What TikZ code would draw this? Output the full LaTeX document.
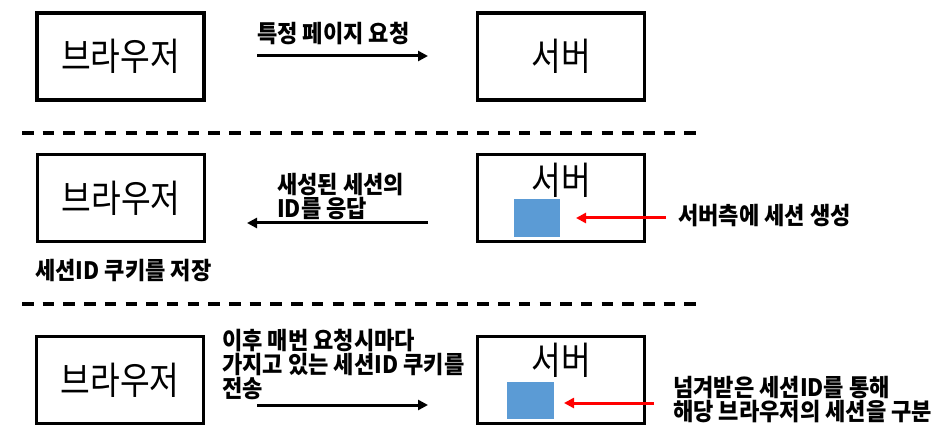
\documentclass[tikz,border=0pt]{standalone}
\usepackage{fontspec}
\usetikzlibrary{arrows.meta}
\newfontfamily\krfont[FakeStretch=0.85]{Noto Sans CJK KR}
\newfontfamily\krlbl[FakeStretch=0.92]{Noto Sans CJK KR}
\definecolor{boxblue}{HTML}{5B9BD5}
\tikzset{
  bigtext/.style={font=\krfont\fontsize{38}{40}\selectfont},
  mainbox/.style={draw=black, line width=3.2pt, inner sep=0pt, minimum width=167pt, minimum height=87pt, bigtext},
  sesbox/.style={fill=boxblue, draw=none, inner sep=0pt, minimum width=46pt, minimum height=38pt},
  lbl/.style={inner sep=0pt, anchor=west, align=left, font=\krlbl\bfseries\fontsize{24}{24}\selectfont},
  blackarrow/.style={line width=3pt, -{Triangle[length=10pt,width=10pt]}},
  redarrow/.style={draw=red, line width=3pt, -{Triangle[length=10pt,width=10pt]}},
  sep/.style={line width=3.2pt, dash pattern=on 11.5pt off 9.2pt},
}
\begin{document}
\begin{tikzpicture}[x=1pt,y=-1pt]
\useasboundingbox (0,0) rectangle (944,438);
% Row 1
\node[mainbox] (b1) at (120.5,56.5) {브라우저};
\node[mainbox] (s1) at (561,56.5) {서버};
\coordinate (a1s) at (257,56);
\coordinate (a1e) at (428,56);
\draw[blackarrow] (a1s) -- (a1e);
\node[lbl] (l1) at (257,33.5) {특정 페이지 요청};
% separator 1
\coordinate (d1s) at (22,133);
\coordinate (d1e) at (702,133);
\draw[sep] (d1s) -- (d1e);
% Row 2
\node[mainbox] (b2) at (121,198) {브라우저};
\node[mainbox] (s2) at (561,198) {};
\node[inner sep=0pt, bigtext] (s2t) at (561,180) {서버};
\node[sesbox] (r2) at (537,218) {};
\coordinate (a2s) at (428,223);
\coordinate (a2e) at (247,223);
\draw[blackarrow] (a2s) -- (a2e);
\node[lbl] (l2) at (277,196.5) {새성된 세션의\\ID를 응답};
\node[lbl] (l3) at (35,271) {세션ID 쿠키를 저장};
\coordinate (r2s) at (666,218);
\coordinate (r2e) at (576,218);
\draw[redarrow] (r2s) -- (r2e);
\node[lbl] (l4) at (678,215.5) {서버측에 세션 생성};
% separator 2
\coordinate (d2s) at (22,304);
\coordinate (d2e) at (702,304);
\draw[sep] (d2s) -- (d2e);
% Row 3
\node[mainbox] (b3) at (120,380) {브라우저};
\node[mainbox] (s3) at (561,380) {};
\node[inner sep=0pt, bigtext] (s3t) at (561,360) {서버};
\node[sesbox, minimum width=47pt, minimum height=37pt] (r3) at (530.5,400.5) {};
\coordinate (a3s) at (257,405);
\coordinate (a3e) at (428,405);
\draw[blackarrow] (a3s) -- (a3e);
\node[lbl] (l5) at (222,364.5) {이후 매번 요청시마다\\가지고 있는 세션ID 쿠키를\\전송};
\coordinate (r3s) at (654,403);
\coordinate (r3e) at (564,403);
\draw[redarrow] (r3s) -- (r3e);
\node[lbl] (l6) at (673,399.5) {넘겨받은 세션ID를 통해\\해당 브라우저의 세션을 구분};
\end{tikzpicture}
\end{document}
